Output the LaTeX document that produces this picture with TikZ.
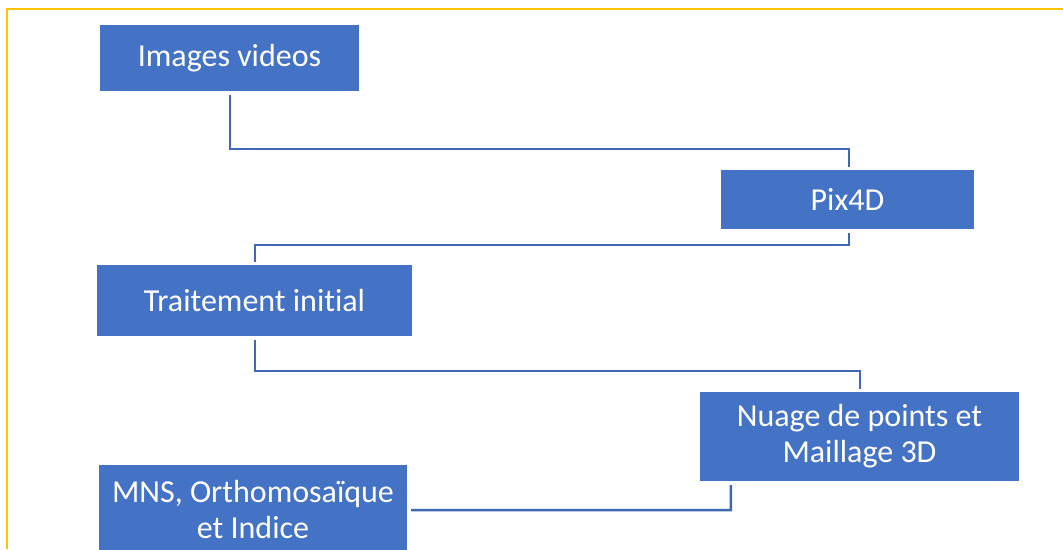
\documentclass[tikz,border=0pt]{standalone}
\usepackage{fontspec}
\setmainfont{Carlito}[RawFeature=-liga]
\definecolor{boxblue}{HTML}{4472C4}
\definecolor{lineblue}{HTML}{4068B8}
\definecolor{frameyellow}{HTML}{FFC000}
\begin{document}
\begin{tikzpicture}[x=1pt, y=-1pt,
        stepbox/.style={fill=boxblue, text=white, inner sep=0pt, align=center,
            font=\fontsize{32}{36}\selectfont},
        link/.style={draw=lineblue, line width=2.5pt}]
        \useasboundingbox (0, 0) rectangle (1063, 549);
        \draw[frameyellow, line width=2pt] (1063, 9) -- (7, 9) -- (7, 549);
        \node[stepbox, minimum width=259, minimum height=66] (img) at (229.5, 58) {Images videos};
        \node[stepbox, minimum width=253, minimum height=59] (pix) at (847.5, 199.5) {Pix4D};
        \node[stepbox, minimum width=315, minimum height=71] (trait) at (254.5, 300.5) {Traitement initial};
        \node[stepbox, minimum width=319, minimum height=89] (nuage) at (859.5, 436.5) {Nuage de points et\\Maillage 3D};
        \node[stepbox, minimum width=308, minimum height=90] (mns) at (253, 510) {MNS, Orthomosaïque\\et Indice};
        \draw[link] ([xshift=0.5pt, yshift=-4pt]img.south) -- ++(0, 54) -| ([xshift=1.5pt, yshift=3pt]pix.north);
        \draw[link] ([xshift=1.5pt, yshift=-4pt]pix.south) -- ++(0, 12) -| ([xshift=0.5pt, yshift=3pt]trait.north);
        \draw[link] ([xshift=0.5pt, yshift=-4pt]trait.south) -- ++(0, 31) -| ([xshift=0.5pt, yshift=3pt]nuage.north);
        \draw[link] ([xshift=31pt, yshift=-4pt]nuage.south west) -- ++(0, 25) -- ([xshift=4pt]mns.east);
\end{tikzpicture}
\end{document}
